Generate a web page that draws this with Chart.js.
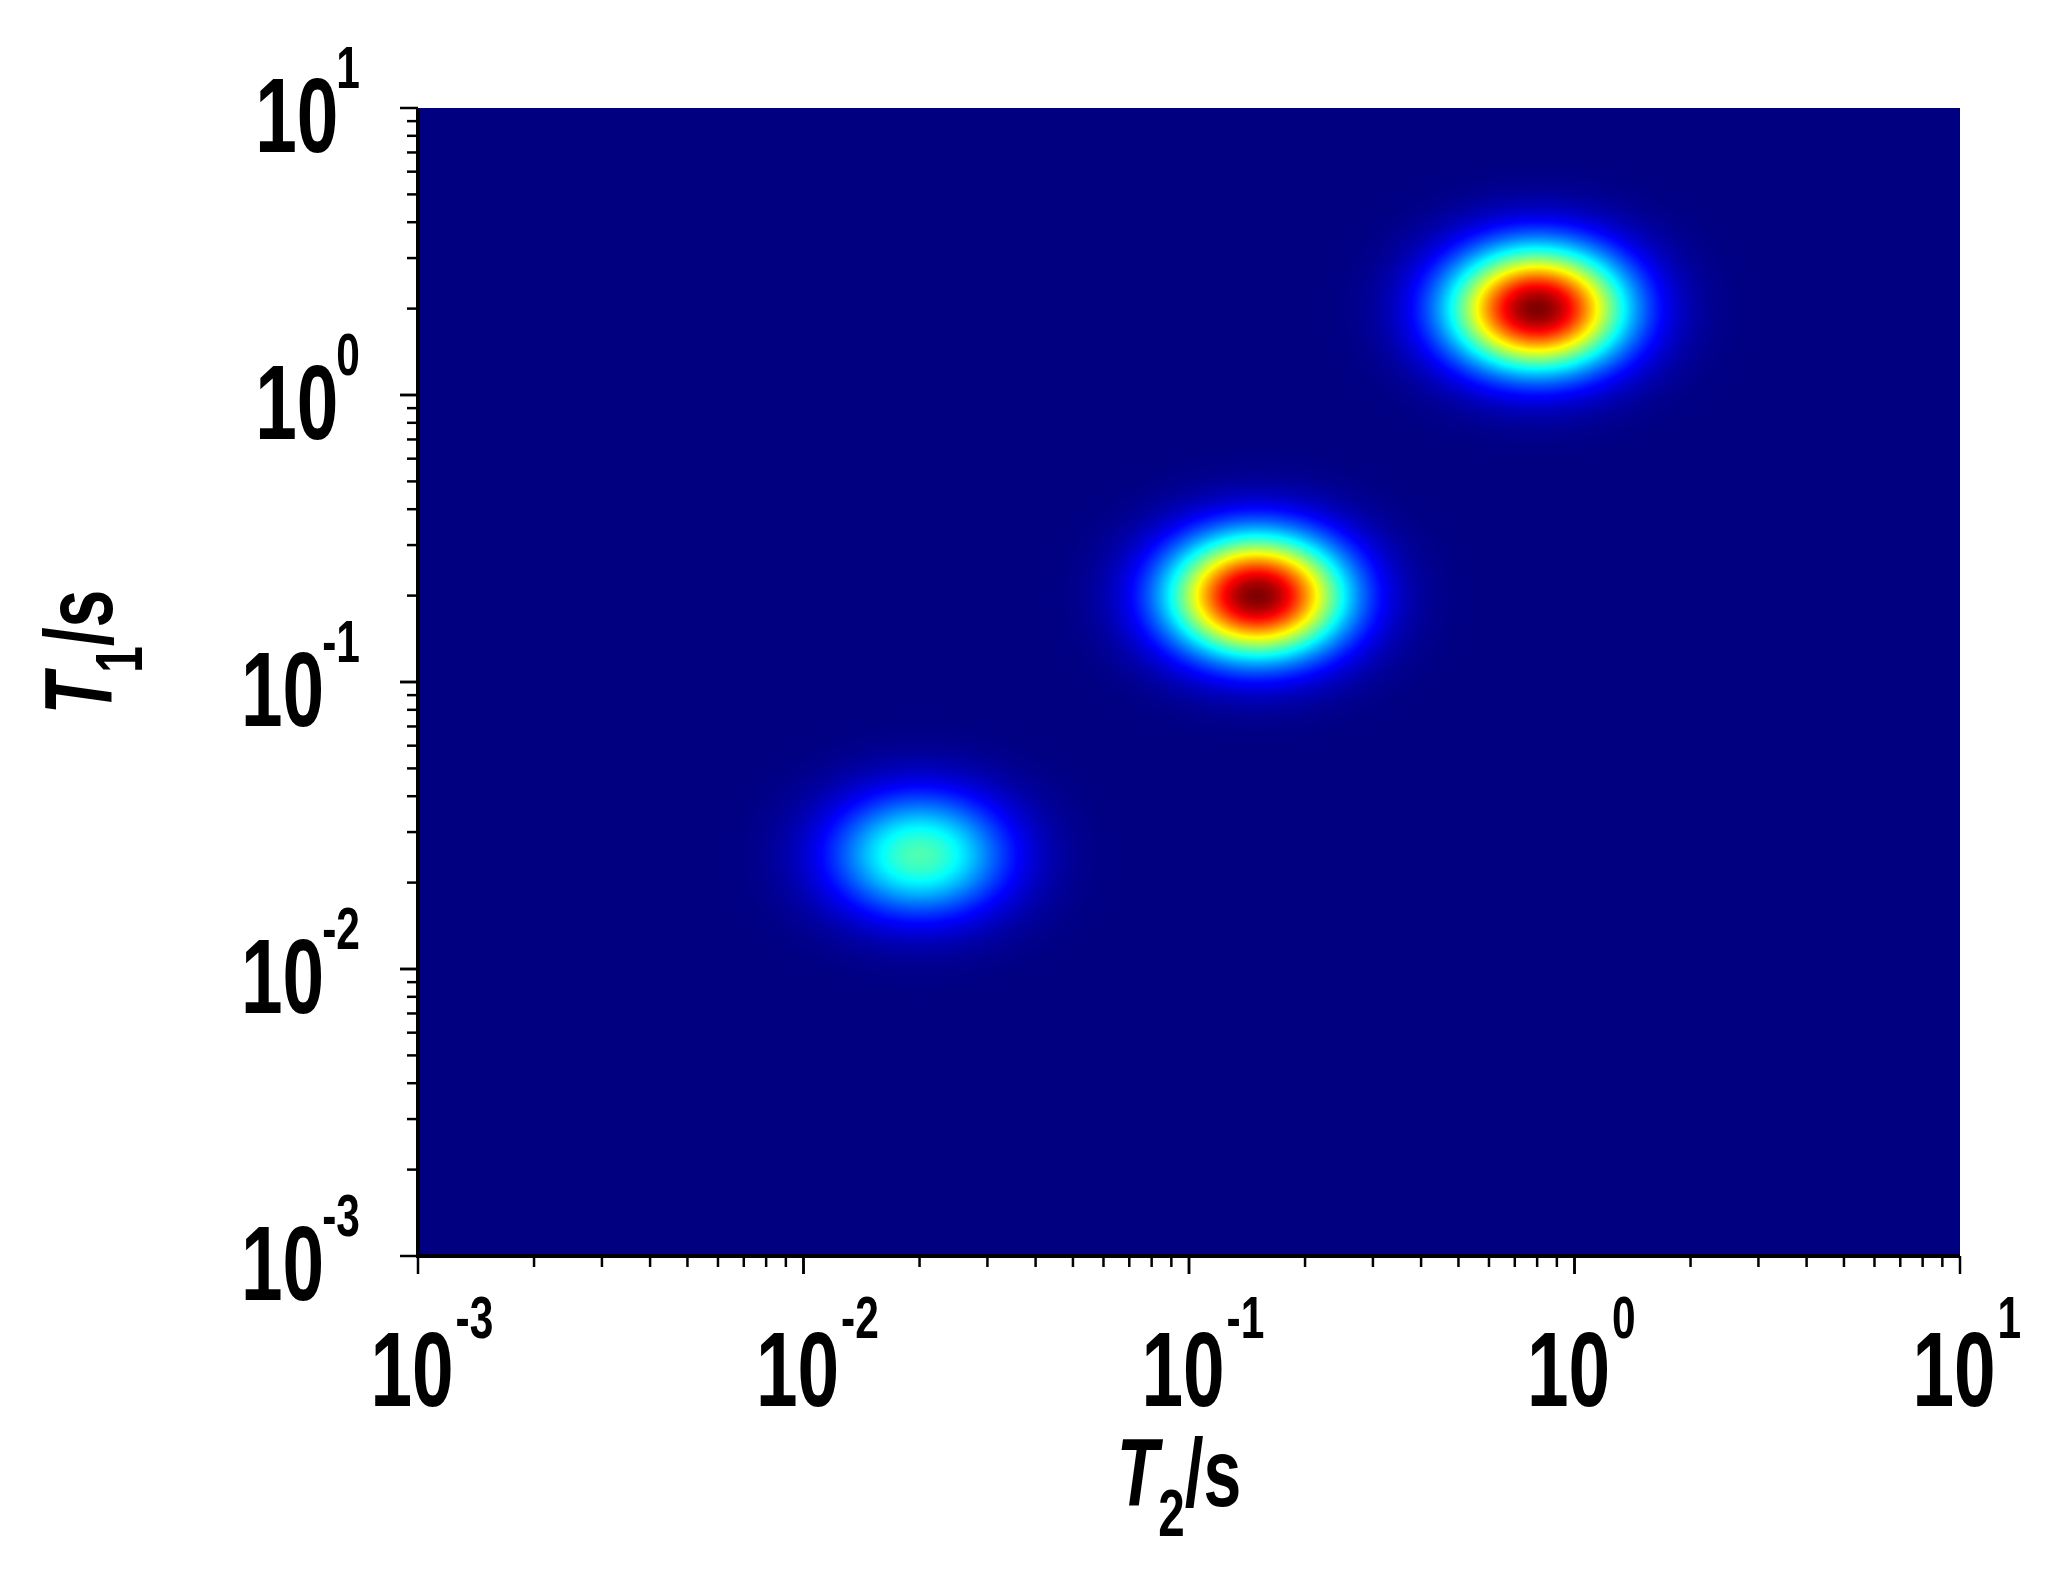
<!DOCTYPE html>
<html><head><meta charset="utf-8">
<script src="https://cdn.jsdelivr.net/npm/chart.js@4/dist/chart.umd.min.js"></script>
<style>html,body{margin:0;padding:0;background:#fff}#w{width:2052px;height:1593px}</style>
</head><body><div id="w"><canvas id="c"></canvas></div>
<script>
// Peak data (log-space Gaussian components of the T1-T2 map)
const peakT2 = [0.02, 0.15, 0.8];
const peakT1 = [0.025, 0.2, 2.0];
const peakAmp = [0.45, 1.0, 1.0];
const peakSigmaX = [0.16, 0.16, 0.16]; // decades
const peakSigmaY = [0.15, 0.15, 0.15];
const xTickLabels = ['-3','-2','-1','0','1'];
const yTickLabels = ['-3','-2','-1','0','1'];
const xMajor = [0.001,0.01,0.1,1,10];
const yMajor = [0.001,0.01,0.1,1,10];

function jet(v){
  v=Math.max(0,Math.min(1,v));
  const f=(x)=>Math.max(0,Math.min(1,x));
  const r=f(1.5-Math.abs(4*v-3)), g=f(1.5-Math.abs(4*v-2)), b=f(1.5-Math.abs(4*v-1));
  return [r*255,g*255,b*255];
}
const heat={id:'heat',beforeDatasetsDraw(ch){
  const a=ch.chartArea,x=ch.scales.x,y=ch.scales.y,ctx=ch.ctx;
  const w=Math.round(a.right-a.left),h=Math.round(a.bottom-a.top);
  const img=ctx.createImageData(w,h);
  for(let j=0;j<h;j++){const ly=Math.log10(y.getValueForPixel(a.top+j+0.5));
    for(let i=0;i<w;i++){const lx=Math.log10(x.getValueForPixel(a.left+i+0.5));
      let v=0;for(let k=0;k<peakT2.length;k++){const dx=(lx-Math.log10(peakT2[k]))/peakSigmaX[k],dy=(ly-Math.log10(peakT1[k]))/peakSigmaY[k];
        v+=peakAmp[k]*Math.exp(-(dx*dx+dy*dy)/2);}
      const c=jet(v),p=(j*w+i)*4;img.data[p]=c[0];img.data[p+1]=c[1];img.data[p+2]=c[2];img.data[p+3]=255;}}
  ctx.putImageData(img,a.left,a.top);
}};
const SX=0.85,SY=1.2;
function txt(ctx,s,x,y,font,align){ctx.save();ctx.font=font;ctx.translate(x,y);ctx.scale(SX,SY);ctx.textAlign=align||'left';ctx.fillText(s,0,0);ctx.restore();}
function tw(ctx,s,font){ctx.save();ctx.font=font;const w=ctx.measureText(s).width*SX;ctx.restore();return w;}
const deco={id:'deco',afterDraw(ch){
  const a=ch.chartArea,x=ch.scales.x,y=ch.scales.y,ctx=ch.ctx;
  ctx.save();ctx.strokeStyle='#000';ctx.fillStyle='#000';
  ctx.lineWidth=4;ctx.beginPath();ctx.moveTo(a.left,a.top);ctx.lineTo(a.left,a.bottom);ctx.lineTo(a.right,a.bottom);ctx.stroke();
  ctx.lineWidth=2.5;
  for(let d=-3;d<1;d++)for(let m=1;m<=10;m++){const v=m*Math.pow(10,d);const L=(m===1||m===10)?18:11;
    const px=x.getPixelForValue(v);ctx.beginPath();ctx.moveTo(px,a.bottom);ctx.lineTo(px,a.bottom+L);ctx.stroke();
    const py=y.getPixelForValue(v);ctx.beginPath();ctx.moveTo(a.left,py);ctx.lineTo(a.left-L,py);ctx.stroke();}
  const big='bold 88px "Liberation Sans", Arial',sm='bold 50px "Liberation Sans", Arial';
  ctx.textBaseline='alphabetic';
  xMajor.forEach((v,i)=>{const px=x.getPixelForValue(v);const w=tw(ctx,'10',big);
    txt(ctx,'10',px-w/2-6,a.bottom+150,big);txt(ctx,xTickLabels[i],px+w/2-4,a.bottom+82,sm);});
  yMajor.forEach((v,i)=>{const py=y.getPixelForValue(v);const ew=tw(ctx,yTickLabels[i],sm);
    txt(ctx,yTickLabels[i],a.left-58,py-20,sm,'right');txt(ctx,'10',a.left-58-ew+2,py+44,big,'right');});
  function title(sub){const F1='bold italic 80px "Liberation Sans", Arial',F2='bold 56px "Liberation Sans", Arial',F3='bold 80px "Liberation Sans", Arial';
    const w1=tw(ctx,'T',F1),w2=tw(ctx,sub,F2),w3=tw(ctx,'/s',F3);let x0=-(w1+w2+w3)/2;
    txt(ctx,'T',x0,0,F1);txt(ctx,sub,x0+w1,30,F2);txt(ctx,'/s',x0+w1+w2,0,F3);}
  ctx.save();ctx.translate((a.left+a.right)/2-10,a.bottom+250);title('2');ctx.restore();
  ctx.save();ctx.translate(112,(a.top+a.bottom)/2-30);ctx.rotate(-Math.PI/2);title('1');ctx.restore();
  ctx.restore();
}};
new Chart(document.getElementById('c'),{type:'scatter',data:{datasets:[{data:peakT2.map((t,i)=>({x:t,y:peakT1[i]})),pointRadius:0}]},
  options:{responsive:true,maintainAspectRatio:false,animation:false,devicePixelRatio:1,
    layout:{padding:{left:418,top:108,right:92,bottom:337}},
    plugins:{legend:{display:false},tooltip:{enabled:false}},
    scales:{x:{type:'logarithmic',min:0.001,max:10,display:false},y:{type:'logarithmic',min:0.001,max:10,display:false}}},
  plugins:[heat,deco]});
</script></body></html>
